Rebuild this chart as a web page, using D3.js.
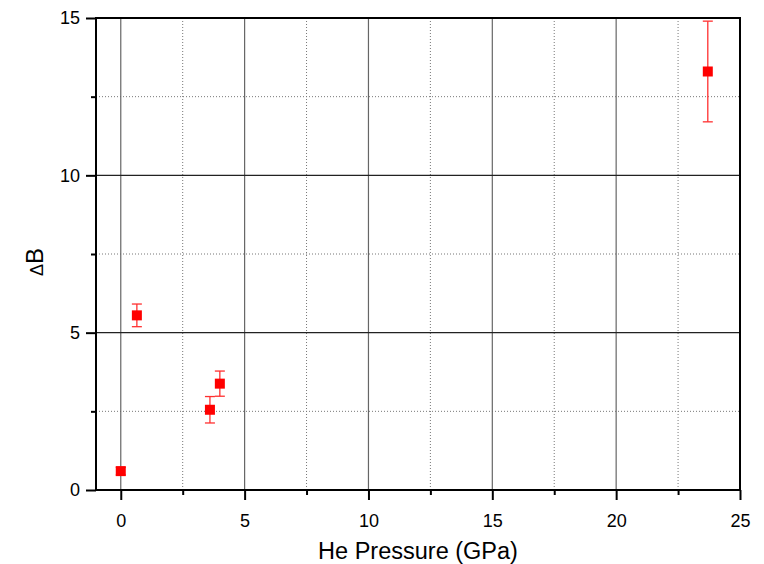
<!DOCTYPE html>
<html>
<head>
<meta charset="UTF-8">
<script src="https://cdn.jsdelivr.net/npm/d3@7"></script>
<style>
  body { margin: 0; background: #fff; }
  text { font-family: "Liberation Sans", Arial, sans-serif; fill: #000; }
</style>
</head>
<body>
<div id="chart"></div>
<script>
// data
const pressure = [0, 0.65, 3.6, 4.0, 23.7];
const deltaB   = [0.6, 5.55, 2.55, 3.38, 13.3];
const errB     = [0.12, 0.36, 0.42, 0.4, 1.6];
const xTicks = [0, 5, 10, 15, 20, 25];
const xMinor = [2.5, 7.5, 12.5, 17.5, 22.5];
const yTicks = [0, 5, 10, 15];
const yMinor = [2.5, 7.5, 12.5];

const width = 764, height = 564;
const margin = {left: 96, right: 24, top: 18, bottom: 74};

const svg = d3.select("#chart").append("svg")
    .attr("width", width)
    .attr("height", height);

const x = d3.scaleLinear().domain([-1, 25]).range([margin.left, width - margin.right]);
const y = d3.scaleLinear().domain([0, 15]).range([height - margin.bottom, margin.top]);

const g = svg.append("g");

// minor grid (dotted)
g.selectAll(".vminor").data(xMinor).join("line")
    .attr("x1", d => x(d)).attr("x2", d => x(d))
    .attr("y1", y(0)).attr("y2", y(15))
    .attr("stroke", "#777").attr("stroke-width", 1).attr("stroke-dasharray", "1,2");
g.selectAll(".hminor").data(yMinor).join("line")
    .attr("x1", x(-1)).attr("x2", x(25))
    .attr("y1", d => y(d)).attr("y2", d => y(d))
    .attr("stroke", "#777").attr("stroke-width", 1).attr("stroke-dasharray", "1,2");

// major grid
g.selectAll(".vmajor").data(xTicks.filter(d => d < 25)).join("line")
    .attr("x1", d => x(d)).attr("x2", d => x(d))
    .attr("y1", y(0)).attr("y2", y(15))
    .attr("stroke", "#666").attr("stroke-width", 1.2);
g.selectAll(".hmajor").data(yTicks.filter(d => d > 0 && d < 15)).join("line")
    .attr("x1", x(-1)).attr("x2", x(25))
    .attr("y1", d => y(d)).attr("y2", d => y(d))
    .attr("stroke", "#222").attr("stroke-width", 1.2);

// frame
svg.append("rect")
    .attr("x", x(-1)).attr("y", y(15))
    .attr("width", x(25) - x(-1)).attr("height", y(0) - y(15))
    .attr("fill", "none").attr("stroke", "#000").attr("stroke-width", 2);

// axes
svg.append("g")
    .attr("transform", `translate(0,${y(0)})`)
    .call(d3.axisBottom(x).tickValues(xTicks).tickSize(10).tickPadding(14).tickFormat(d3.format("d")));
svg.append("g")
    .attr("transform", `translate(0,${y(0)})`)
    .call(d3.axisBottom(x).tickValues(xMinor).tickSize(5).tickFormat(""));

svg.append("g")
    .attr("transform", `translate(${x(-1)},0)`)
    .call(d3.axisLeft(y).tickValues(yTicks).tickSize(10).tickPadding(6).tickFormat(d3.format("d")));
svg.append("g")
    .attr("transform", `translate(${x(-1)},0)`)
    .call(d3.axisLeft(y).tickValues(yMinor).tickSize(5).tickFormat(""));

svg.selectAll(".domain").remove();
svg.selectAll(".tick line").attr("stroke", "#000").attr("stroke-width", 2);
svg.selectAll(".tick text").style("font-size", "18px");

// labels
svg.append("text")
    .attr("x", (x(-1) + x(25)) / 2).attr("y", 559)
    .attr("text-anchor", "middle")
    .style("font-size", "23.5px")
    .text("He Pressure (GPa)");

const yl = svg.append("text")
    .attr("transform", `translate(43,262) rotate(-90)`)
    .attr("text-anchor", "middle")
    .style("font-size", "24px");
yl.append("tspan").style("font-size", "18px").text("Δ");
yl.append("tspan").text("B");

// data
const pts = pressure.map((p, i) => ({p, b: deltaB[i], e: errB[i]}));
const err = svg.append("g").attr("stroke", "#ff3030").attr("stroke-width", 1.3);
err.selectAll(".ev").data(pts).join("line")
    .attr("x1", d => x(d.p)).attr("x2", d => x(d.p))
    .attr("y1", d => y(d.b - d.e)).attr("y2", d => y(d.b + d.e));
err.selectAll(".ct").data(pts).join("line")
    .attr("x1", d => x(d.p) - 5).attr("x2", d => x(d.p) + 5)
    .attr("y1", d => y(d.b + d.e)).attr("y2", d => y(d.b + d.e));
err.selectAll(".cb").data(pts).join("line")
    .attr("x1", d => x(d.p) - 5).attr("x2", d => x(d.p) + 5)
    .attr("y1", d => y(d.b - d.e)).attr("y2", d => y(d.b - d.e));

svg.selectAll(".pt").data(pts).join("rect")
    .attr("x", d => x(d.p) - 5).attr("y", d => y(d.b) - 5)
    .attr("width", 10).attr("height", 10)
    .attr("fill", "#ff0000");
</script>
</body>
</html>
